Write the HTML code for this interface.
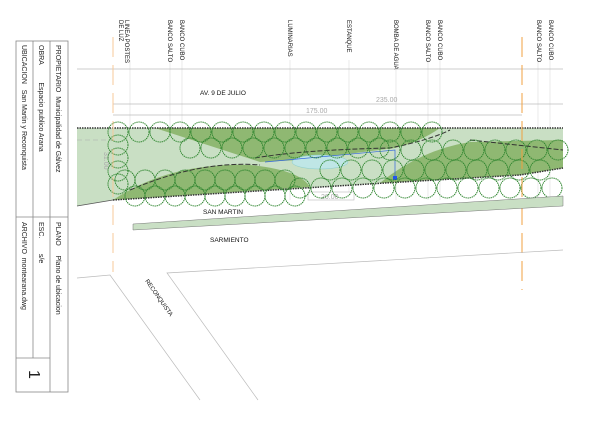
<!DOCTYPE html>
<html><head><meta charset="utf-8"><style>
html,body{margin:0;padding:0;background:#fff;}
svg{display:block;font-family:"Liberation Sans",sans-serif;}
</style></head><body>
<svg id="s" width="600" height="424" viewBox="0 0 600 424" xmlns="http://www.w3.org/2000/svg">
<g stroke="#888" stroke-width="0.8" fill="none">
<rect x="16" y="41" width="52" height="351"/>
<line x1="33" y1="41" x2="33" y2="358"/>
<line x1="50" y1="41" x2="50" y2="392"/>
<line x1="16" y1="217" x2="68" y2="217"/>
<line x1="16" y1="358" x2="50" y2="358"/>
</g>
<g font-size="7" fill="#222">
<text transform="translate(56,45) rotate(90)">PROPIETARIO&#160;&#160;Municipalidad de Gálvez</text>
<text transform="translate(39,45) rotate(90)">OBRA&#160;&#160;&#160;&#160;&#160;&#160;&#160;&#160;&#160;Espacio publico Arana</text>
<text transform="translate(22,45) rotate(90)">UBICACION&#160;&#160;&#160;San Martin y Reconquista</text>
<text transform="translate(56,222) rotate(90)">PLANO&#160;&#160;&#160;&#160;&#160;Plano de ubicacion</text>
<text transform="translate(39,222) rotate(90)">ESC.&#160;&#160;&#160;&#160;&#160;&#160;&#160;&#160;s/e</text>
<text transform="translate(22,222) rotate(90)">ARCHIVO&#160;&#160;montearana.dwg</text>
<text transform="translate(29,370) rotate(90)" font-size="16">1</text>
</g>
<g stroke="#ddd" stroke-width="0.6">
<line x1="130" y1="60" x2="130" y2="200"/><line x1="170" y1="60" x2="170" y2="200"/><line x1="182" y1="60" x2="182" y2="200"/>
<line x1="290" y1="60" x2="290" y2="200"/><line x1="349" y1="60" x2="349" y2="200"/><line x1="396" y1="60" x2="396" y2="200"/>
<line x1="428" y1="60" x2="428" y2="200"/><line x1="440" y1="60" x2="440" y2="200"/><line x1="538" y1="60" x2="538" y2="200"/><line x1="550" y1="60" x2="550" y2="200"/>
</g>
<g font-size="6" fill="#111">
<text transform="translate(125,20) rotate(90)">LINEA POSTES</text>
<text transform="translate(119,20) rotate(90)">DE LUZ</text>
<text transform="translate(168,20) rotate(90)">BANCO SALTO</text>
<text transform="translate(180,20) rotate(90)">BANCO CUBO</text>
<text transform="translate(288,20) rotate(90)">LUMINARIAS</text>
<text transform="translate(347,20) rotate(90)">ESTANQUE</text>
<text transform="translate(394,20) rotate(90)">BOMBA DE AGUA</text>
<text transform="translate(426,20) rotate(90)">BANCO SALTO</text>
<text transform="translate(438,20) rotate(90)">BANCO CUBO</text>
<text transform="translate(537,20) rotate(90)">BANCO SALTO</text>
<text transform="translate(549,20) rotate(90)">BANCO CUBO</text>
</g>
<g stroke="#bbb" stroke-width="0.7">
<line x1="77" y1="69" x2="563" y2="69"/>
<line x1="113" y1="104" x2="563" y2="104"/>
<line x1="113" y1="115" x2="522" y2="115"/>
</g>
<text x="200" y="95" font-size="6.5" fill="#111">AV. 9 DE JULIO</text>
<text x="376" y="102" font-size="7" fill="#aaa">235.00</text>
<text x="306" y="113" font-size="7" fill="#aaa">175.00</text>
<polygon points="77,128 563,128 563,168 520,175 385,183 113,200 77,206" fill="#c9dfc4"/>
<path d="M155,128 L440,128 Q420,142 395,148 L300,160 L260,162 Z" fill="#8fb872"/>
<path d="M113,200 Q170,162 250,165 Q300,170 310,187 Z" fill="#8fb872"/>
<path d="M380,183 Q420,150 470,142 L563,140 L563,168 L520,175 Z" fill="#8fb872"/>
<ellipse cx="320" cy="162" rx="28" ry="7" fill="#bfe6e6" stroke="#8cc" stroke-width="0.5"/>
<line x1="77" y1="128" x2="563" y2="128" stroke="#333" stroke-width="1.5" stroke-dasharray="1.5,1"/>
<polyline points="113,200 385,183 520,175 563,168" fill="none" stroke="#333" stroke-width="1.5" stroke-dasharray="1.5,1"/>
<polyline points="77,206 113,200" fill="none" stroke="#555" stroke-width="0.8"/>
<line x1="77" y1="140" x2="115" y2="140" stroke="#aaa" stroke-width="0.6" stroke-dasharray="5,3"/>
<path d="M130,190 Q200,160 260,165" fill="none" stroke="#333" stroke-width="1" stroke-dasharray="5,2"/>
<path d="M255,158 Q300,150 390,148 Q430,140 450,130" fill="none" stroke="#333" stroke-width="1" stroke-dasharray="5,2"/>
<path d="M470,140 L563,150" fill="none" stroke="#333" stroke-width="1" stroke-dasharray="5,2"/>
<polyline points="265,162 395,150 395,178" fill="none" stroke="#3366dd" stroke-width="0.7"/>
<rect x="393" y="176" width="4" height="4" fill="#2255ee"/>
<text transform="translate(104,152) rotate(90)" font-size="7" fill="#aaa">31.00</text>
<rect x="308" y="192" width="46" height="8" fill="#fff" stroke="#bbb" stroke-width="0.6"/>
<text x="321" y="199" font-size="7" fill="#aaa">20.00</text>
<g id="trees" fill="none" stroke="#2f862f" stroke-width="1" stroke-dasharray="1.4,0.7"></g>
<line x1="113" y1="37" x2="113" y2="272" stroke="#f7c89a" stroke-width="1" stroke-dasharray="20,8"/>
<line x1="522" y1="37" x2="522" y2="290" stroke="#f0a040" stroke-width="1" stroke-dasharray="20,8"/>
<text x="203" y="214" font-size="6.5" fill="#111">SAN MARTIN</text>
<polygon points="133,224 563,196 563,206 133,230" fill="#c9dfc4" stroke="#777" stroke-width="0.5"/>
<text x="210" y="242" font-size="6.5" fill="#111">SARMIENTO</text>
<g stroke="#bbb" stroke-width="0.7" fill="none">
<polyline points="77,278 110,275 200,400"/>
<polyline points="258,400 167,273 563,250"/>
</g>
<text transform="translate(145,281) rotate(55)" font-size="6" fill="#111">RECONQUISTA</text>
<script>
var g=document.getElementById('trees'),pts=[];
function row(x0,x1,y,st){for(var x=x0;x<=x1;x+=st)pts.push([x,y]);}
for(var y=132;y<=190;y+=13)pts.push([118,y]);
row(139,160,132,21);
row(180,440,132,21);
row(190,380,148,21);
row(125,300,180,20);
row(135,310,196,20);
row(390,560,150,21);
row(330,560,170,21);
row(300,560,188,21);
pts.forEach(function(p){var c=document.createElementNS('http://www.w3.org/2000/svg','circle');c.setAttribute('cx',p[0]);c.setAttribute('cy',p[1]);c.setAttribute('r',10);g.appendChild(c);});
</script>
</svg>
</body></html>
